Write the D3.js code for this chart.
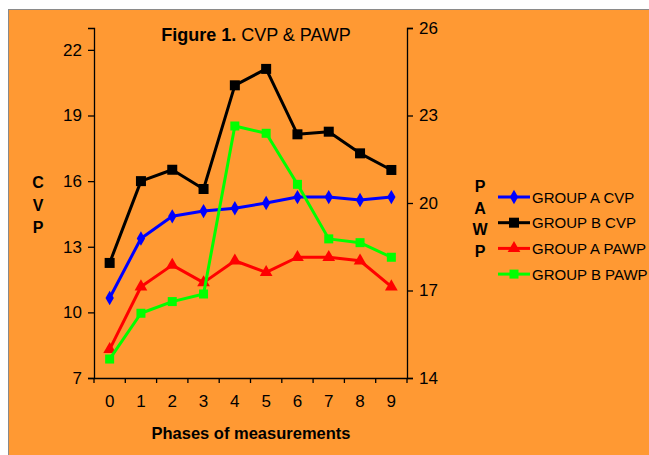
<!DOCTYPE html>
<html><head><meta charset="utf-8">
<script src="https://cdn.jsdelivr.net/npm/d3@7"></script>
<style>
html,body{margin:0;padding:0;background:#fff;}
svg{display:block;font-family:Arial,"Liberation Sans",sans-serif;}
</style></head>
<body><svg id="c" width="649" height="455"></svg>
<script>
const phases = ["0","1","2","3","4","5","6","7","8","9"];
const groupACVP  = [10.66,13.38,14.39,14.63,14.76,15.0,15.27,15.27,15.14,15.27];
const groupBCVP  = [12.26,16.0,16.52,15.64,20.38,21.13,18.14,18.26,17.27,16.51];
const groupAPAWP = [14.98,17.13,17.87,17.27,18.02,17.62,18.14,18.14,18.02,17.13];
const groupBPAWP = [14.65,16.22,16.62,16.88,22.64,22.39,20.64,18.77,18.64,18.14];
const leftTicks = [7,10,13,16,19,22];
const rightTicks = [14,17,20,23,26];
const seriesNames = ["GROUP A CVP","GROUP B CVP","GROUP A PAWP","GROUP B PAWP"];

const svg = d3.select("#c");
// frame
svg.append("rect").attr("x",8.5).attr("y",9.5).attr("width",660).attr("height",460)
  .attr("fill","#FF9933").attr("stroke","#8a8a8a").attr("stroke-width",1);

const x = d3.scaleBand().domain(phases).range([94,407]);
const yL = d3.scaleLinear().domain([7,23]).range([378,28]);
const yR = d3.scaleLinear().domain([14,26]).range([378,28]);

const series = [
  {name:seriesNames[0], values:groupACVP, y:yL, color:"#0000FF", sym:"diamond"},
  {name:seriesNames[1], values:groupBCVP, y:yL, color:"#000000", sym:"square"},
  {name:seriesNames[2], values:groupAPAWP, y:yR, color:"#FF0000", sym:"triangle"},
  {name:seriesNames[3], values:groupBPAWP, y:yR, color:"#00FF00", sym:"square2"}
];

// axes
const axL = svg.append("g").attr("transform","translate(94,0)")
  .call(d3.axisLeft(yL).tickValues(leftTicks).tickSize(6).tickPadding(6));
const axR = svg.append("g").attr("transform","translate(407,0)")
  .call(d3.axisRight(yR).tickValues(rightTicks).tickSize(6).tickPadding(6));
const axB = svg.append("g").attr("transform","translate(0,378)")
  .call(d3.axisBottom(x).tickSize(0).tickPadding(17));
// boundary ticks for category axis
svg.append("g").selectAll("line").data(d3.range(phases.length+1)).join("line")
  .attr("x1",i=>94+i*x.step()).attr("x2",i=>94+i*x.step())
  .attr("y1",378).attr("y2",383).attr("stroke","#000").attr("stroke-width",1.3);
[axL,axR,axB].forEach(a=>{
  a.select(".domain").attr("stroke","#000").attr("stroke-width",1.3);
  a.selectAll(".tick line").attr("stroke","#000").attr("stroke-width",1.3);
  a.selectAll("text").attr("font-size",17).attr("fill","#000").attr("font-family","Arial,'Liberation Sans',sans-serif");
});

// lines & markers
function marker(g, sym, color, cx, cy){
  if(sym==="diamond"){
    g.append("path").attr("d",d3.symbol(d3.symbolDiamond,60)()).attr("transform",`translate(${cx},${cy})`).attr("fill",color);
  } else if(sym==="square"){
    g.append("rect").attr("x",cx-5).attr("y",cy-5).attr("width",10).attr("height",10).attr("fill",color);
  } else if(sym==="square2"){
    g.append("rect").attr("x",cx-4.5).attr("y",cy-4.5).attr("width",9).attr("height",9).attr("fill",color);
  } else {
    g.append("path").attr("d",d3.symbol(d3.symbolTriangle,70)()).attr("transform",`translate(${cx},${cy})`).attr("fill",color);
  }
}
series.forEach(s=>{
  const g = svg.append("g");
  const line = d3.line().x((d,i)=>x(phases[i])+x.bandwidth()/2).y(d=>s.y(d));
  g.append("path").datum(s.values).attr("d",line).attr("fill","none")
    .attr("stroke",s.color).attr("stroke-width",3).attr("stroke-linejoin","round");
  s.values.forEach((v,i)=>marker(g,s.sym,s.color,x(phases[i])+x.bandwidth()/2,s.y(v)));
});

// title
const t = svg.append("text").attr("x",256).attr("y",41).attr("text-anchor","middle").attr("font-size",18);
t.append("tspan").attr("font-weight","bold").text("Figure 1.");
t.append("tspan").text(" CVP & PAWP");

// axis titles
svg.append("text").attr("x",251).attr("y",439).attr("text-anchor","middle")
  .attr("font-size",16.5).attr("font-weight","bold").text("Phases of measurements");
["C","V","P"].forEach((c,i)=>svg.append("text").attr("x",38).attr("y",188+i*22.5)
  .attr("text-anchor","middle").attr("font-size",16).attr("font-weight","bold").text(c));
["P","A","W","P"].forEach((c,i)=>svg.append("text").attr("x",480).attr("y",192+i*21.7)
  .attr("text-anchor","middle").attr("font-size",16).attr("font-weight","bold").text(c));

// legend
series.forEach((s,i)=>{
  const ly = 197+i*25.7;
  const g = svg.append("g");
  g.append("line").attr("x1",498).attr("x2",530).attr("y1",ly).attr("y2",ly)
    .attr("stroke",s.color).attr("stroke-width",3);
  marker(g,s.sym,s.color,514,ly);
  g.append("text").attr("x",532).attr("y",ly+5.5).attr("font-size",15).text(s.name);
});
</script></body></html>
